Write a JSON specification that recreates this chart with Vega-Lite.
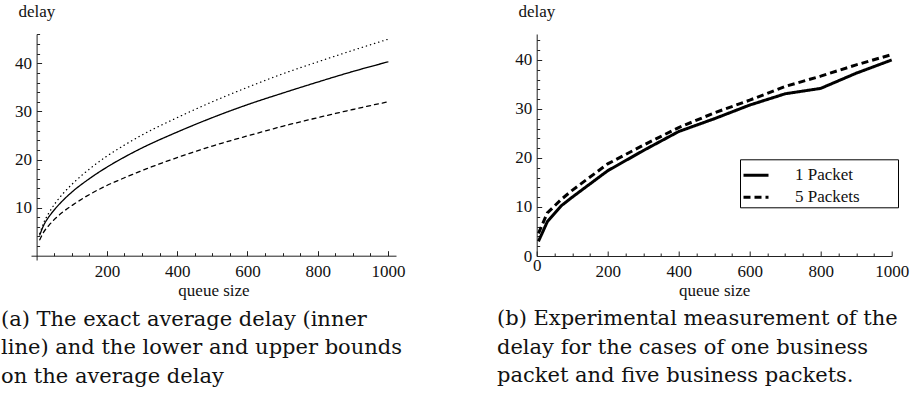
{
  "$schema": "https://vega.github.io/schema/vega-lite/v6.json",
  "padding": {"left": 1, "top": 2, "right": 5, "bottom": 5},
  "background": "white",
  "config": {
    "view": {"stroke": null},
    "font": "Liberation Serif",
    "axis": {
      "grid": false,
      "domainColor": "#222",
      "tickColor": "#222",
      "domainWidth": 1,
      "tickWidth": 1,
      "labelFont": "Liberation Serif",
      "labelFontSize": 17,
      "labelColor": "#111",
      "titleFont": "Liberation Serif",
      "titleFontSize": 17,
      "titleFontWeight": "normal",
      "titleColor": "#111",
      "labelOverlap": false,
      "labelFlush": false,
      "format": "d"
    },
    "title": {
      "font": "DejaVu Serif",
      "fontSize": 21,
      "fontWeight": "normal",
      "color": "#111",
      "lineHeight": 28.5,
      "orient": "bottom",
      "anchor": "start",
      "frame": "group",
      "offset": 10
    }
  },
  "datasets": {
    "a": [
      {"series": "exact", "x": 9, "y": 4.3},
      {"series": "exact", "x": 20, "y": 6.3},
      {"series": "exact", "x": 35, "y": 8.1},
      {"series": "exact", "x": 50, "y": 9.5},
      {"series": "exact", "x": 75, "y": 11.5},
      {"series": "exact", "x": 100, "y": 13.2},
      {"series": "exact", "x": 150, "y": 16.0},
      {"series": "exact", "x": 200, "y": 18.4},
      {"series": "exact", "x": 250, "y": 20.5},
      {"series": "exact", "x": 300, "y": 22.4},
      {"series": "exact", "x": 400, "y": 25.7},
      {"series": "exact", "x": 500, "y": 28.7},
      {"series": "exact", "x": 600, "y": 31.4},
      {"series": "exact", "x": 700, "y": 33.8},
      {"series": "exact", "x": 800, "y": 36.1},
      {"series": "exact", "x": 900, "y": 38.3},
      {"series": "exact", "x": 1000, "y": 40.3},
      {"series": "lower", "x": 9, "y": 3.3},
      {"series": "lower", "x": 20, "y": 4.9},
      {"series": "lower", "x": 35, "y": 6.3},
      {"series": "lower", "x": 50, "y": 7.5},
      {"series": "lower", "x": 75, "y": 9.1},
      {"series": "lower", "x": 100, "y": 10.4},
      {"series": "lower", "x": 150, "y": 12.7},
      {"series": "lower", "x": 200, "y": 14.6},
      {"series": "lower", "x": 250, "y": 16.2},
      {"series": "lower", "x": 300, "y": 17.7},
      {"series": "lower", "x": 400, "y": 20.4},
      {"series": "lower", "x": 500, "y": 22.8},
      {"series": "lower", "x": 600, "y": 24.9},
      {"series": "lower", "x": 700, "y": 26.9},
      {"series": "lower", "x": 800, "y": 28.7},
      {"series": "lower", "x": 900, "y": 30.4},
      {"series": "lower", "x": 1000, "y": 32.0},
      {"series": "upper", "x": 9, "y": 4.6},
      {"series": "upper", "x": 20, "y": 6.8},
      {"series": "upper", "x": 35, "y": 8.9},
      {"series": "upper", "x": 50, "y": 10.6},
      {"series": "upper", "x": 75, "y": 12.9},
      {"series": "upper", "x": 100, "y": 14.8},
      {"series": "upper", "x": 150, "y": 18.0},
      {"series": "upper", "x": 200, "y": 20.7},
      {"series": "upper", "x": 250, "y": 23.0},
      {"series": "upper", "x": 300, "y": 25.1},
      {"series": "upper", "x": 400, "y": 28.7},
      {"series": "upper", "x": 500, "y": 32.0},
      {"series": "upper", "x": 600, "y": 35.0},
      {"series": "upper", "x": 700, "y": 37.8},
      {"series": "upper", "x": 800, "y": 40.3},
      {"series": "upper", "x": 900, "y": 42.7},
      {"series": "upper", "x": 1000, "y": 45.0}
    ],
    "b": [
      {"series": "1 Packet", "x": 5, "y": 3.0},
      {"series": "1 Packet", "x": 30, "y": 7.0},
      {"series": "1 Packet", "x": 70, "y": 10.3},
      {"series": "1 Packet", "x": 100, "y": 12.0},
      {"series": "1 Packet", "x": 200, "y": 17.4},
      {"series": "1 Packet", "x": 300, "y": 21.5},
      {"series": "1 Packet", "x": 400, "y": 25.4},
      {"series": "1 Packet", "x": 500, "y": 28.0},
      {"series": "1 Packet", "x": 600, "y": 30.8},
      {"series": "1 Packet", "x": 700, "y": 33.1},
      {"series": "1 Packet", "x": 800, "y": 34.2},
      {"series": "1 Packet", "x": 900, "y": 37.3},
      {"series": "1 Packet", "x": 1000, "y": 40.0},
      {"series": "5 Packets", "x": 5, "y": 4.6},
      {"series": "5 Packets", "x": 30, "y": 8.8},
      {"series": "5 Packets", "x": 70, "y": 11.6},
      {"series": "5 Packets", "x": 100, "y": 13.4},
      {"series": "5 Packets", "x": 200, "y": 18.8},
      {"series": "5 Packets", "x": 300, "y": 22.6},
      {"series": "5 Packets", "x": 400, "y": 26.2},
      {"series": "5 Packets", "x": 500, "y": 29.2},
      {"series": "5 Packets", "x": 600, "y": 31.8},
      {"series": "5 Packets", "x": 700, "y": 34.6},
      {"series": "5 Packets", "x": 800, "y": 36.7},
      {"series": "5 Packets", "x": 900, "y": 39.0},
      {"series": "5 Packets", "x": 1000, "y": 41.1}
    ]
  },
  "bounds": "flush",
  "spacing": 140.7,
  "resolve": {"scale": {"strokeDash": "independent"}, "legend": {"strokeDash": "independent"}},
  "hconcat": [
    {
      "width": 365,
      "height": 226,
      "data": {"name": "a"},
      "title": {
        "text": ["(a) The exact average delay (inner", "line) and the lower and upper bounds", "on the average delay"],
        "dx": -30
      },
      "mark": {"type": "line", "color": "black", "strokeWidth": 1.3, "strokeCap": "round", "interpolate": "monotone"},
      "encoding": {
        "x": {
          "field": "x", "type": "quantitative",
          "scale": {"domain": [-16, 1023], "nice": false, "zero": false},
          "axis": {
            "values": [50,100,150,200,250,300,350,400,450,500,550,600,650,700,750,800,850,900,950,1000],
            "labelExpr": "datum.value % 200 === 0 ? datum.label : ''",
            "labelFont": "Liberation Serif",
            "tickSize": {"condition": {"test": "datum.value % 200 === 0", "value": -5}, "value": -3},
            "labelPadding": 25.3,
            "labelBaseline": "alphabetic",
            "offset": -4.3,
            "title": "queue size",
            "titleBaseline": "alphabetic",
            "titleY": 40
          }
        },
        "y": {
          "field": "y", "type": "quantitative",
          "scale": {"domain": [-0.9, 46.1], "nice": false, "zero": false},
          "axis": {
            "values": [2,4,6,8,10,12,14,16,18,20,22,24,26,28,30,32,34,36,38,40,42,44,46],
            "labelExpr": "datum.value % 10 === 0 ? datum.label : ''",
            "labelFont": "Liberation Serif",
            "tickSize": {"condition": {"test": "datum.value % 10 === 0", "value": -5}, "value": -3},
            "labelPadding": 10,
            "offset": -5.6,
            "title": "delay",
            "titleAngle": 0,
            "titleAlign": "left",
            "titleBaseline": "alphabetic",
            "titleX": -18.6,
            "titleY": -18
          }
        },
        "strokeDash": {
          "field": "series", "type": "nominal",
          "scale": {"domain": ["exact", "lower", "upper"], "range": [[1, 0], [4, 4], [0.3, 4]]},
          "legend": null
        }
      }
    },
    {
      "width": 355,
      "height": 222,
      "data": {"name": "b"},
      "title": {
        "text": ["(b) Experimental measurement of the", "delay for the cases of one business", "packet and five business packets."],
        "dx": -39.7
      },
      "mark": {"type": "line", "color": "black", "strokeWidth": 3},
      "encoding": {
        "x": {
          "field": "x", "type": "quantitative",
          "scale": {"domain": [0, 1000], "nice": false},
          "axis": {
            "values": [0,50,100,150,200,250,300,350,400,450,500,550,600,650,700,750,800,850,900,950,1000],
            "labelExpr": "datum.value % 200 === 0 ? datum.label : ''",
            "labelFont": "Liberation Serif",
            "tickSize": {"condition": {"test": "datum.value % 200 === 0", "value": -5}, "value": -3},
            "labelPadding": {"condition": {"test": "datum.value === 0", "value": 19.5}, "value": 25.5},
            "labelBaseline": "alphabetic",
            "title": "queue size",
            "titleBaseline": "alphabetic",
            "titleY": 39
          }
        },
        "y": {
          "field": "y", "type": "quantitative",
          "scale": {"domain": [0, 45.3], "nice": false},
          "axis": {
            "values": [0,2,4,6,8,10,12,14,16,18,20,22,24,26,28,30,32,34,36,38,40,42,44],
            "labelExpr": "datum.value % 10 === 0 ? datum.label : ''",
            "labelFont": "Liberation Serif",
            "tickSize": {"condition": {"test": "datum.value % 10 === 0", "value": -5}, "value": -3},
            "labelPadding": 10,
            "title": "delay",
            "titleAngle": 0,
            "titleAlign": "left",
            "titleBaseline": "alphabetic",
            "titleX": -18.7,
            "titleY": -18
          }
        },
        "strokeDash": {
          "field": "series", "type": "nominal",
          "scale": {"domain": ["1 Packet", "5 Packets"], "range": [[1, 0], [7, 4]]},
          "legend": {
            "orient": "none",
            "legendX": 203.3,
            "legendY": 125.3,
            "title": null,
            "symbolType": "stroke",
            "symbolSize": 625,
            "symbolStrokeWidth": 3,
            "symbolStrokeColor": "black",
            "labelFont": "Liberation Serif",
            "labelFontSize": 17,
            "labelColor": "#111",
            "labelOffset": 25,
            "labelExpr": "datum.label + '\u2800\u2800\u2800'",
            "strokeColor": "black",
            "fillColor": "white",
            "padding": 2,
            "rowPadding": -1
          }
        }
      }
    }
  ]
}
